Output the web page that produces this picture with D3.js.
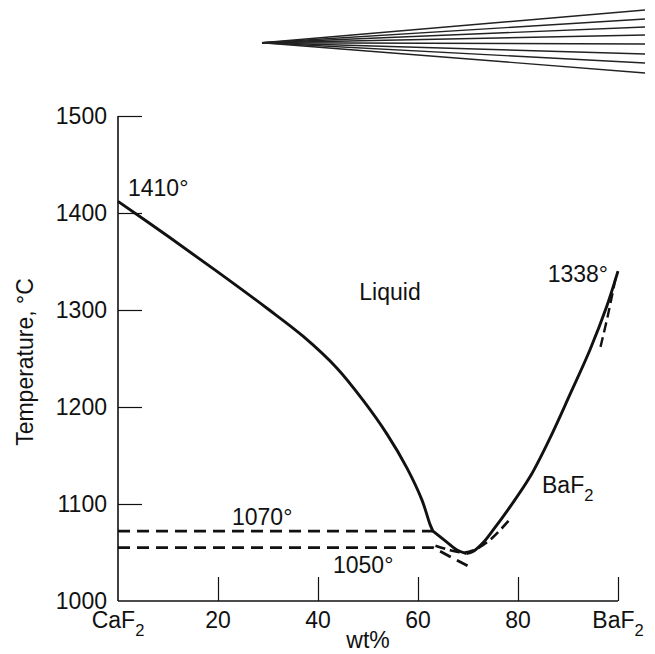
<!DOCTYPE html>
<html>
<head>
<meta charset="utf-8">
<script src="https://cdn.jsdelivr.net/npm/d3@7"></script>
<style>
  body { margin: 0; background: #fff; }
  text { font-family: "Liberation Sans", Arial, sans-serif; fill: #111; }
</style>
</head>
<body>
<div id="chart"></div>
<script>
// data
var yTicks = [1000, 1100, 1200, 1300, 1400, 1500];
var xTicks = [20, 40, 60, 80];
var xTickLabels = ["20", "40", "60", "80"];

// liquidus, CaF2 side down to the 1070 kink
var liqLeftWt = [0, 10, 20, 30, 37, 43.8, 49, 53.8, 57.8, 60.8, 62.4, 63];
var liqLeftT  = [1412, 1376, 1339, 1301, 1273, 1240, 1207, 1172, 1137, 1104, 1079, 1072];
// from the kink to the minimum
var liqMidWt = [63, 65.7, 68, 69.7];
var liqMidT  = [1072, 1061, 1052, 1049];
// liquidus, BaF2 side
var liqRightWt = [69.7, 71, 73, 75, 78.4, 82.4, 86.4, 90.4, 94.4, 97.7, 100];
var liqRightT  = [1049, 1051, 1060, 1073, 1097, 1128, 1168, 1213, 1259, 1303, 1340];

// dashed lines
var line1070Wt = [0, 63];
var line1070T  = [1072, 1072];
var line1050Wt = [0, 63, 70.8];
var line1050T  = [1055, 1055, 1034];
var dashMinWt = [63.5, 66, 69, 71, 74.4, 78.7];
var dashMinT  = [1057, 1053, 1050, 1052, 1063, 1086];
var dashTopWt = [96.5, 98, 99.6];
var dashTopT  = [1262, 1295, 1335];

// fan at the top (end heights of the lines, px)
var fanEnds = [10, 19, 27, 35, 44, 54, 63, 73];

var svgWidth = 655;
var svgHeight = 654;

var svg = d3.select("#chart")
  .append("svg")
  .attr("width", svgWidth)
  .attr("height", svgHeight);

svg.append("rect").attr("width", svgWidth).attr("height", svgHeight).attr("fill", "#fff");

var x = d3.scaleLinear().domain([0, 100]).range([118, 618]);
var y = d3.scaleLinear().domain([1000, 1500]).range([601, 116]);

// axes
var bottomAxis = d3.axisTop(x).tickValues([20, 40, 60, 80, 100]).tickSize(24).tickFormat("");
var leftAxis = d3.axisRight(y).tickValues([1100, 1200, 1300, 1400, 1500]).tickSize(24).tickFormat("");

var gx = svg.append("g").attr("transform", "translate(0," + y(1000) + ")").call(bottomAxis);
var gy = svg.append("g").attr("transform", "translate(" + x(0) + ",0)").call(leftAxis);
gx.select(".domain").attr("d", "M" + x(0) + ",0H" + x(100)).attr("stroke", "#111").attr("stroke-width", 1.6);
gy.select(".domain").attr("d", "M0," + y(1000) + "V" + y(1500)).attr("stroke", "#111").attr("stroke-width", 1.6);
svg.selectAll(".tick line").attr("stroke", "#111").attr("stroke-width", 1.2);

// y tick labels
svg.selectAll(".ylab")
  .data(yTicks)
  .enter()
  .append("text")
  .attr("x", 107)
  .attr("y", d => y(d) + 8)
  .attr("text-anchor", "end")
  .attr("font-size", "23px")
  .text(d => d);

// x tick labels
svg.selectAll(".xlab")
  .data(xTicks)
  .enter()
  .append("text")
  .attr("x", d => x(d))
  .attr("y", 628)
  .attr("text-anchor", "middle")
  .attr("font-size", "23px")
  .text((d, i) => xTickLabels[i]);

function compound(px, py, main, sub, anchor, size) {
  var t = svg.append("text")
    .attr("x", px)
    .attr("y", py)
    .attr("text-anchor", anchor)
    .attr("font-size", size + "px");
  t.append("tspan").text(main);
  t.append("tspan").attr("dy", 8).attr("font-size", (size * 0.72) + "px").text(sub);
  return t;
}

compound(x(0), 628, "CaF", "2", "middle", 23);
compound(x(100), 628, "BaF", "2", "middle", 23);

svg.append("text")
  .attr("x", x(50))
  .attr("y", 648)
  .attr("text-anchor", "middle")
  .attr("font-size", "23px")
  .text("wt%");

svg.append("text")
  .attr("transform", "rotate(-90)")
  .attr("x", -362)
  .attr("y", 33)
  .attr("text-anchor", "middle")
  .attr("font-size", "23px")
  .text("Temperature, °C");

// curves
var line = d3.line().x(d => x(d[0])).y(d => y(d[1])).curve(d3.curveCatmullRom.alpha(0.5));
var straight = d3.line().x(d => x(d[0])).y(d => y(d[1]));

function pairs(a, b) { return a.map((v, i) => [v, b[i]]); }

function solid(a, b) {
  svg.append("path")
    .attr("d", line(pairs(a, b)))
    .attr("fill", "none").attr("stroke", "#111").attr("stroke-width", 2.9)
    .attr("stroke-linejoin", "round");
}
solid(liqLeftWt, liqLeftT);
solid(liqMidWt, liqMidT);
solid(liqRightWt, liqRightT);

var dashStyle = "12,7";
svg.append("path")
  .attr("d", straight(pairs(line1070Wt, line1070T)))
  .attr("fill", "none").attr("stroke", "#111").attr("stroke-width", 2.8).attr("stroke-dasharray", dashStyle);
svg.append("path")
  .attr("d", straight(pairs(line1050Wt, line1050T)))
  .attr("fill", "none").attr("stroke", "#111").attr("stroke-width", 2.8).attr("stroke-dasharray", dashStyle);
svg.append("path")
  .attr("d", line(pairs(dashMinWt, dashMinT)))
  .attr("fill", "none").attr("stroke", "#111").attr("stroke-width", 2.6).attr("stroke-dasharray", "10,5");
svg.append("path")
  .attr("d", line(pairs(dashTopWt, dashTopT)))
  .attr("fill", "none").attr("stroke", "#111").attr("stroke-width", 2.4).attr("stroke-dasharray", "10,5");

// labels
svg.append("text").attr("x", 128).attr("y", 196).attr("font-size", "23px").text("1410°");
svg.append("text").attr("x", 608).attr("y", 282).attr("text-anchor", "end").attr("font-size", "23px").text("1338°");
svg.append("text").attr("x", 390).attr("y", 300).attr("text-anchor", "middle").attr("font-size", "23px").text("Liquid");
svg.append("text").attr("x", 232).attr("y", 525).attr("font-size", "23px").text("1070°");
svg.append("text").attr("x", 333).attr("y", 573).attr("font-size", "23px").text("1050°");
compound(542, 493, "BaF", "2", "start", 23);

// fan at top
var fanX = d3.scaleLinear().domain([0, 1]).range([262, 645]);
svg.selectAll(".fan")
  .data(fanEnds)
  .enter()
  .append("line")
  .attr("x1", fanX(0))
  .attr("y1", 42.7)
  .attr("x2", fanX(1))
  .attr("y2", d => d)
  .attr("stroke", "#222")
  .attr("stroke-width", 1.4);
</script>
</body>
</html>
